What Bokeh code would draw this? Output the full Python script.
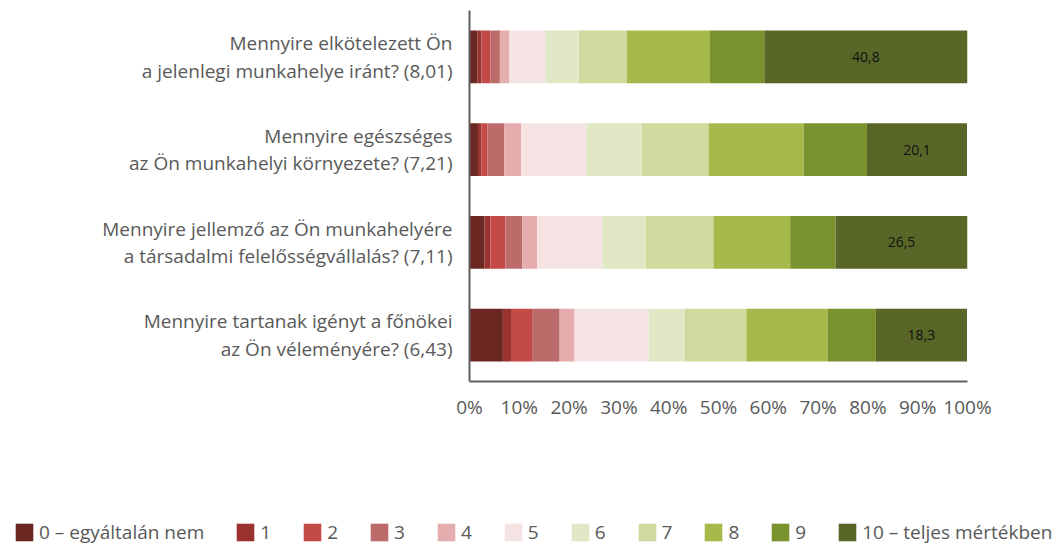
from bokeh.plotting import figure
from bokeh.layouts import column
from bokeh.models import (ColumnDataSource, FactorRange, Range1d, Legend, LegendItem, FixedTicker,
                          PrintfTickFormatter)
from bokeh.core.properties import value
from bokeh.embed import file_html
from bokeh.resources import INLINE

categories = [
    "Mennyire elkötelezett Ön\na jelenlegi munkahelye iránt? (8,01)",
    "Mennyire egészséges\naz Ön munkahelyi környezete? (7,21)",
    "Mennyire jellemző az Ön munkahelyére\na társadalmi felelősségvállalás? (7,11)",
    "Mennyire tartanak igényt a főnökei\naz Ön véleményére? (6,43)",
]
levels = ["0 – egyáltalán nem", "1", "2", "3", "4", "5", "6", "7", "8", "9", "10 – teljes mértékben"]

score_0 = [1.6, 1.7, 3.0, 6.7]
score_1 = [0.8, 0.7, 1.2, 1.8]
score_2 = [1.8, 1.2, 3.0, 4.2]
score_3 = [1.9, 3.4, 3.4, 5.4]
score_4 = [1.9, 3.4, 3.0, 3.0]
score_5 = [7.3, 13.1, 13.1, 14.9]
score_6 = [6.7, 11.1, 8.7, 7.2]
score_7 = [9.6, 13.4, 13.6, 12.4]
score_8 = [16.7, 19.1, 15.4, 16.3]
score_9 = [10.9, 12.7, 9.1, 9.7]
score_10 = [40.8, 20.1, 26.5, 18.3]

colors = ["#6B2722", "#9A3330", "#C44A47", "#BC6B6B", "#E5ADAE", "#F5E3E3",
          "#E1E8C5", "#CFDA9E", "#A5BA4B", "#7A922D", "#586627"]

series = [score_0, score_1, score_2, score_3, score_4, score_5, score_6,
          score_7, score_8, score_9, score_10]
keys = [f"s{i}" for i in range(11)]

data = {"cat": categories}
for k, s in zip(keys, series):
    data[k] = s
before10 = [sum(s[i] for s in series[:10]) for i in range(len(categories))]
data["tx"] = [b + v / 2 for b, v in zip(before10, score_10)]
data["lbl"] = [f"{v:.1f}".replace(".", ",") for v in score_10]
src = ColumnDataSource(data)

FONT = "Open Sans"
TEXT_COLOR = "#595959"

p = figure(width=1060, height=430, output_backend="svg", toolbar_location=None,
           y_range=FactorRange(factors=list(reversed(categories)), range_padding=0),
           x_range=Range1d(0, 100),
           min_border_left=469, min_border_right=93, min_border_top=10, min_border_bottom=49)
p.frame_align = False

rs = p.hbar_stack(keys, y="cat", height=0.57, color=colors, line_color=None, source=src)

p.text(x="tx", y="cat", text="lbl", source=src, text_align="center", text_baseline="middle",
       text_font=value(FONT), text_font_size="14px", text_color="#111111")

p.xgrid.visible = False
p.ygrid.visible = False
p.outline_line_color = None

p.xaxis.ticker = FixedTicker(ticks=list(range(0, 101, 10)))
p.xaxis.formatter = PrintfTickFormatter(format="%d%%")
p.xaxis.major_tick_line_color = None
p.xaxis.minor_tick_line_color = None
p.xaxis.axis_line_color = "#5f5f5f"
p.xaxis.axis_line_width = 2
p.xaxis.major_label_text_font = FONT
p.xaxis.major_label_text_font_size = "19px"
p.xaxis.major_label_text_color = TEXT_COLOR
p.xaxis.major_label_standoff = 6

p.yaxis.major_tick_line_color = None
p.yaxis.minor_tick_line_color = None
p.yaxis.axis_line_color = "#5f5f5f"
p.yaxis.axis_line_width = 2
p.yaxis.major_label_text_font = FONT
p.yaxis.major_label_text_font_size = "19px"
p.yaxis.major_label_text_color = TEXT_COLOR
p.yaxis.major_label_text_line_height = 1.05
p.yaxis.major_label_standoff = 11

# legend panel: the same stacked series on a range that holds none of the
# categories, so no bars are drawn there, only the legend
lg = figure(width=1060, height=116, output_backend="svg", toolbar_location=None,
            x_axis_type=None, y_axis_type=None, x_range=Range1d(0, 100),
            y_range=FactorRange(factors=["legend"]),
            min_border_left=0, min_border_right=0, min_border_top=0, min_border_bottom=0)
lg.frame_align = False
lg.outline_line_color = None
lg.xgrid.visible = False
lg.ygrid.visible = False
swatches = lg.hbar_stack(keys, y="cat", height=0.57, color=colors, line_color=None, source=src)

items = [LegendItem(label=lv, renderers=[r]) for lv, r in zip(levels, swatches)]
legend = Legend(items=items, orientation="horizontal", location=(13, 1),
                glyph_width=22, glyph_height=22, label_standoff=4, spacing=30,
                label_width=10, padding=0, margin=0, border_line_color=None,
                background_fill_alpha=0, label_text_font=FONT, label_text_font_size="19px",
                label_text_color=TEXT_COLOR, label_height=22)
lg.add_layout(legend)

layout = column(p, lg, spacing=0)
open("out.html", "w").write(file_html(layout, INLINE))
